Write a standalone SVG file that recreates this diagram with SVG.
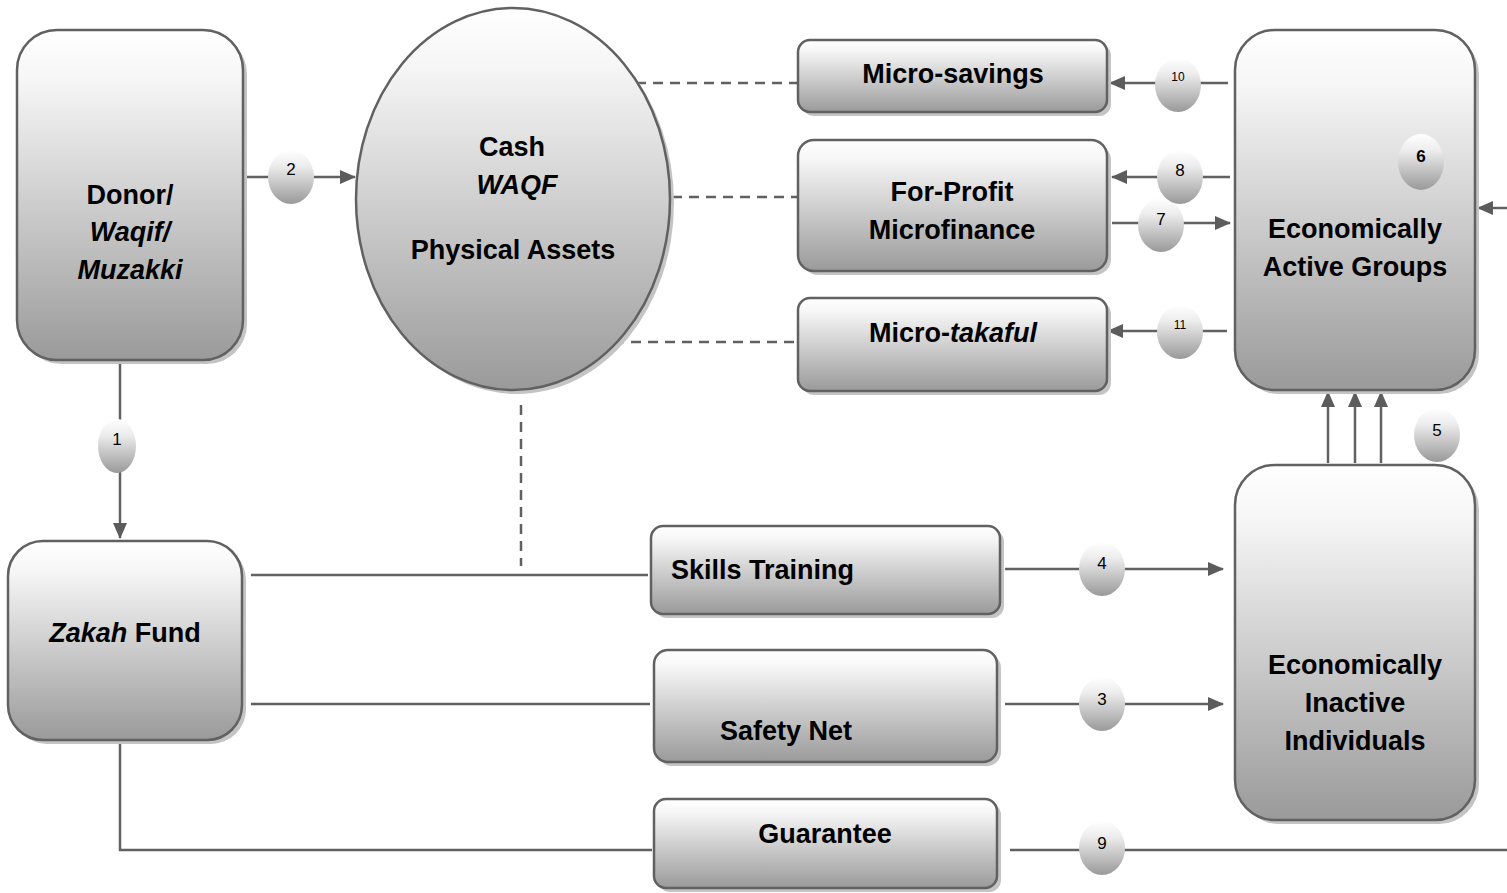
<svg xmlns="http://www.w3.org/2000/svg" width="1507" height="893" viewBox="0 0 1507 893">
<style>
.box{fill:url(#g);stroke:#616161;stroke-width:2.5}
.sh{fill:#c4c4c4}
.bub{fill:url(#gb)}
.t{font-family:"Liberation Sans",Arial,sans-serif;font-weight:bold;font-size:27px;fill:#000;text-anchor:middle}
.n{font-family:"Liberation Sans",Arial,sans-serif;font-size:17px;fill:#000;text-anchor:middle}
.ns{font-family:"Liberation Sans",Arial,sans-serif;font-size:12px;fill:#000;text-anchor:middle}
.ln{stroke:#616161;stroke-width:2.5;fill:none}
.ar{stroke:#616161;stroke-width:2.5;fill:none;marker-end:url(#ah)}
.ds{stroke:#616161;stroke-width:2.5;fill:none;stroke-dasharray:10 7}
</style>
<defs>
<linearGradient id="g" x1="0" y1="0" x2="0" y2="1">
<stop offset="0" stop-color="#ffffff"/><stop offset="0.15" stop-color="#f6f6f6"/><stop offset="1" stop-color="#9a9a9a"/>
</linearGradient>
<linearGradient id="gb" x1="0" y1="0" x2="0" y2="1">
<stop offset="0" stop-color="#ffffff"/><stop offset="0.3" stop-color="#ececec"/><stop offset="1" stop-color="#999999"/>
</linearGradient>
<marker id="ah" markerWidth="16" markerHeight="14" refX="15" refY="7" orient="auto" markerUnits="userSpaceOnUse">
<path d="M0,0 L16,7 L0,14 Z" fill="#5c5c5c"/>
</marker>
</defs>

<g id="connectors">
<line class="ar" x1="243" y1="177" x2="355" y2="177"/>
<line class="ar" x1="120" y1="360" x2="120" y2="538"/>
<line class="ds" x1="636" y1="83" x2="797" y2="83"/>
<line class="ds" x1="672" y1="197" x2="797" y2="197"/>
<line class="ds" x1="614" y1="342" x2="797" y2="342"/>
<line class="ds" x1="521" y1="405" x2="521" y2="566"/>
<line class="ln" x1="251" y1="575" x2="648" y2="575"/>
<line class="ln" x1="251" y1="704" x2="650" y2="704"/>
<polyline class="ln" points="120,740 120,850 652,850"/>
<line class="ar" x1="1005" y1="569" x2="1223" y2="569"/>
<line class="ar" x1="1005" y1="704" x2="1223" y2="704"/>
<line class="ln" x1="1010" y1="850" x2="1507" y2="850"/>
<line class="ar" x1="1507" y1="208" x2="1478" y2="208"/>
<line class="ar" x1="1228" y1="83" x2="1110" y2="83"/>
<line class="ar" x1="1230" y1="177" x2="1112" y2="177"/>
<line class="ar" x1="1112" y1="223" x2="1230" y2="223"/>
<line class="ar" x1="1227" y1="331" x2="1108" y2="331"/>
<line class="ar" x1="1328" y1="463" x2="1328" y2="392"/>
<line class="ar" x1="1355" y1="463" x2="1355" y2="392"/>
<line class="ar" x1="1381" y1="463" x2="1381" y2="392"/>
</g>

<g id="donor">
<rect class="sh" x="21" y="34" width="226" height="330" rx="40"/>
<rect class="box" x="17" y="30" width="226" height="330" rx="40"/>
<text class="t" x="130" y="204">Donor/</text>
<text class="t" x="130" y="241" font-style="italic">Waqif/</text>
<text class="t" x="130" y="279" font-style="italic">Muzakki</text>
</g>

<g id="waqf">
<ellipse class="sh" cx="517" cy="203" rx="157" ry="191"/>
<ellipse class="box" cx="513" cy="199" rx="157" ry="191"/>
<text class="t" x="512" y="156">Cash</text>
<text class="t" x="517" y="194" font-style="italic">WAQF</text>
<text class="t" x="513" y="259">Physical Assets</text>
</g>

<g id="microsavings">
<rect class="sh" x="802" y="44" width="309" height="72" rx="12"/>
<rect class="box" x="798" y="40" width="309" height="72" rx="12"/>
<text class="t" x="953" y="83">Micro-savings</text>
</g>

<g id="microfinance">
<rect class="sh" x="802" y="144" width="309" height="131" rx="16"/>
<rect class="box" x="798" y="140" width="309" height="131" rx="16"/>
<text class="t" x="952" y="201">For-Profit</text>
<text class="t" x="952" y="239">Microfinance</text>
</g>

<g id="takaful">
<rect class="sh" x="802" y="302" width="309" height="93" rx="12"/>
<rect class="box" x="798" y="298" width="309" height="93" rx="12"/>
<text class="t" x="953" y="342">Micro-<tspan font-style="italic">takaful</tspan></text>
</g>

<g id="active">
<rect class="sh" x="1239" y="34" width="240" height="360" rx="40"/>
<rect class="box" x="1235" y="30" width="240" height="360" rx="40"/>
<text class="t" x="1355" y="238">Economically</text>
<text class="t" x="1355" y="276">Active Groups</text>
</g>

<g id="inactive">
<rect class="sh" x="1239" y="469" width="240" height="355" rx="40"/>
<rect class="box" x="1235" y="465" width="240" height="355" rx="40"/>
<text class="t" x="1355" y="674">Economically</text>
<text class="t" x="1355" y="712">Inactive</text>
<text class="t" x="1355" y="750">Individuals</text>
</g>

<g id="zakah">
<rect class="sh" x="12" y="545" width="234" height="199" rx="35"/>
<rect class="box" x="8" y="541" width="234" height="199" rx="35"/>
<text class="t" x="125" y="642"><tspan font-style="italic">Zakah</tspan> Fund</text>
</g>

<g id="skills">
<rect class="sh" x="655" y="530" width="349" height="88" rx="12"/>
<rect class="box" x="651" y="526" width="349" height="88" rx="12"/>
<text class="t" x="671" y="579" style="text-anchor:start">Skills Training</text>
</g>

<g id="safety">
<rect class="sh" x="658" y="654" width="343" height="112" rx="14"/>
<rect class="box" x="654" y="650" width="343" height="112" rx="14"/>
<text class="t" x="786" y="740">Safety Net</text>
</g>

<g id="guarantee">
<rect class="sh" x="658" y="803" width="343" height="89" rx="12"/>
<rect class="box" x="654" y="799" width="343" height="89" rx="12"/>
<text class="t" x="825" y="843">Guarantee</text>
</g>

<g id="b1"><ellipse class="bub" cx="117" cy="446" rx="19" ry="27"/><text class="n" x="117" y="445">1</text></g>
<g id="b2"><ellipse class="bub" cx="291" cy="177" rx="23" ry="27"/><text class="n" x="291" y="175">2</text></g>
<g id="b3"><ellipse class="bub" cx="1102" cy="704" rx="23" ry="27"/><text class="n" x="1102" y="705">3</text></g>
<g id="b4"><ellipse class="bub" cx="1102" cy="569" rx="23" ry="27"/><text class="n" x="1102" y="569">4</text></g>
<g id="b5"><ellipse class="bub" cx="1437" cy="435" rx="23" ry="27"/><text class="n" x="1437" y="436">5</text></g>
<g id="b6"><ellipse class="bub" cx="1421" cy="162" rx="23" ry="28"/><text class="n" x="1421" y="162" font-weight="bold">6</text></g>
<g id="b7"><ellipse class="bub" cx="1161" cy="225" rx="23" ry="27"/><text class="n" x="1161" y="225">7</text></g>
<g id="b8"><ellipse class="bub" cx="1180" cy="177" rx="23" ry="27"/><text class="n" x="1180" y="176">8</text></g>
<g id="b9"><ellipse class="bub" cx="1102" cy="848" rx="23" ry="27"/><text class="n" x="1102" y="849">9</text></g>
<g id="b10"><ellipse class="bub" cx="1178" cy="85" rx="23" ry="27"/><text class="ns" x="1178" y="81">10</text></g>
<g id="b11"><ellipse class="bub" cx="1180" cy="332" rx="23" ry="27"/><text class="ns" x="1180" y="329">11</text></g>
</svg>
